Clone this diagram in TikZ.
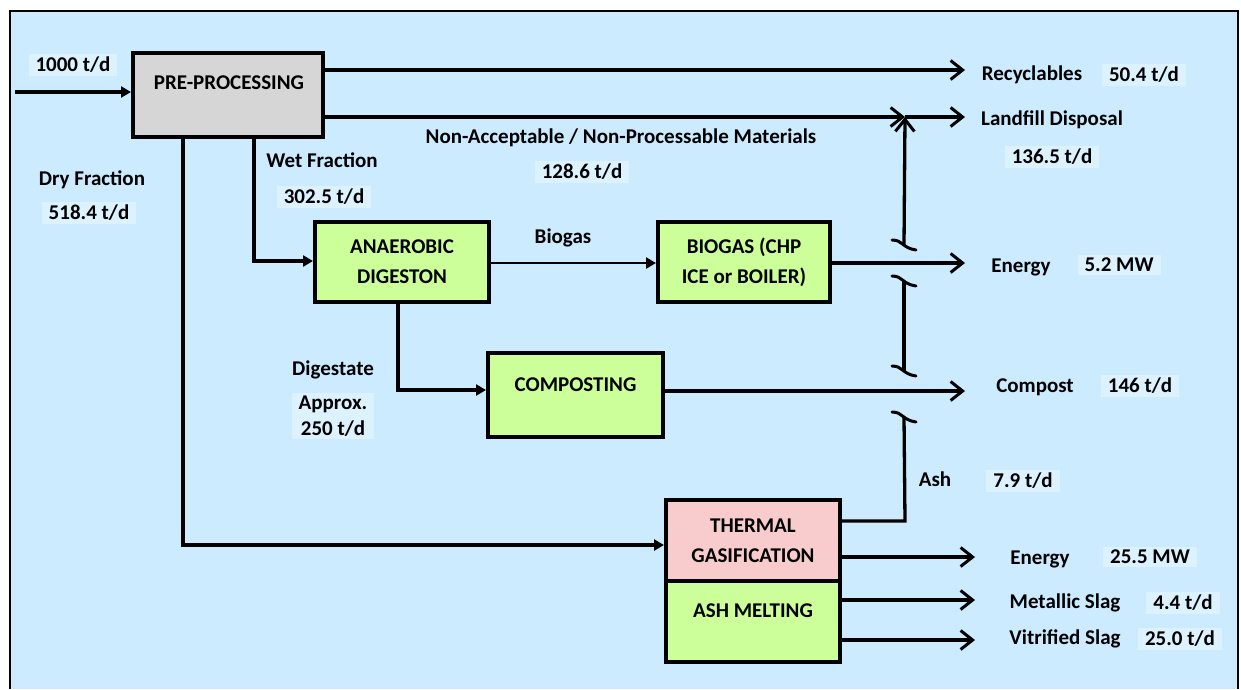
\documentclass[tikz,border=0pt]{standalone}
\usepackage{fontspec}
\setmainfont{Carlito}
\usetikzlibrary{arrows.meta}
\definecolor{skyfill}{HTML}{CCEBFF}
\definecolor{tagfill}{HTML}{DCF2FF}
\definecolor{greybox}{HTML}{D6D6D6}
\definecolor{greenbox}{HTML}{CCFF99}
\definecolor{pinkbox}{HTML}{F8CCCC}
\tikzset{
  proc/.style={draw=black, line width=4pt, inner sep=0pt, align=center,
    font=\bfseries\fontsize{21}{30}\selectfont},
  txt/.style={inner sep=2pt, font=\bfseries\fontsize{21}{24}\selectfont, align=center},
  tag/.style={txt, fill=tagfill, inner xsep=7pt, inner ysep=3pt},
  flow/.style={line width=3.3pt},
  feed/.style={flow, -{Triangle[length=10pt,width=11pt]}},
  outflow/.style={flow, -{Straight Barb[length=12pt,width=19pt,line width=3pt]}},
  hop/.style={line width=3pt, line cap=round}
}
\begin{document}
\begin{tikzpicture}[x=1pt,y=-1pt]
\path[use as bounding box] (0,0) rectangle (1241,689);
% frame
\fill[skyfill] (10,11) rectangle (1238,689);
\draw[line width=2.4pt] (10,689) -- (10,11) -- (1238,11) -- (1238,689);

% process boxes
\node[proc, fill=greybox, minimum width=190, minimum height=84] (pre) at (228,95) {};
\node[txt] (pretxt) at (229,83) {PRE-PROCESSING};
\node[proc, fill=greenbox, minimum width=174, minimum height=80] (ad) at (402,262) {ANAEROBIC\\DIGESTON};
\node[proc, fill=greenbox, minimum width=172, minimum height=80] (bio) at (744,262) {BIOGAS (CHP\\ICE or BOILER)};
\node[proc, fill=greenbox, minimum width=175, minimum height=84] (comp) at (575.5,395) {};
\node[txt] (comptxt) at (575.5,385) {COMPOSTING};
\node[proc, fill=pinkbox, minimum width=174, minimum height=81] (tg) at (753,540.5) {THERMAL\\GASIFICATION};
\node[proc, fill=greenbox, minimum width=174, minimum height=81] (am) at (753,621.5) {};
\node[txt] (amtxt) at (753,611) {ASH MELTING};

% flow end points
\coordinate (in) at (15,92);
\coordinate (recT) at (965,70);
\coordinate (junc) at (905,117);
\coordinate (landT) at (965,117);
\coordinate (en1T) at (965,263);
\coordinate (compT) at (965,391);
\coordinate (en2T) at (975,557);
\coordinate (metT) at (975,600);
\coordinate (vitT) at (975,640);
\coordinate (dryC) at (183,545);
\coordinate (wetC) at (254,261);
\coordinate (digC) at (398,390);
\coordinate (ashC) at (905,521);

% inflow and pre-processing outputs
\draw[feed] (in) -- (pre.west |- in);
\draw[outflow] (pre.east |- recT) -- (recT);
\draw[outflow] (pre.east |- junc) -- (junc);
\draw[outflow] (junc) -- (landT);
\draw[feed] (pre.south -| wetC) -- (wetC) -- (ad.west |- wetC);
\draw[feed] (pre.south -| dryC) -- (dryC) -- (tg.west |- dryC);

% anaerobic digestion branch
\draw[feed, line width=2.6pt] (ad.east |- en1T) -- (bio.west |- en1T);
\draw[feed] (ad.south -| digC) -- (digC) -- (comp.west |- digC);
\draw[outflow] (bio.east |- en1T) -- (en1T);
\draw[outflow] (comp.east |- compT) -- (compT);

% thermal branch
\draw[outflow] (tg.east |- en2T) -- (en2T);
\draw[outflow] (am.east |- metT) -- (metT);
\draw[outflow] (am.east |- vitT) -- (vitT);

% ash to landfill, jumping over the energy and compost lines
\coordinate (h1) at (904,245);
\coordinate (h2) at (904,281);
\coordinate (h3) at (904,371);
\coordinate (h4) at (904,417);
\draw[flow] (tg.east |- ashC) -- (ashC) -- (h4);
\draw[flow] (h3) -- (h2);
\draw[outflow] (h1) -- (junc);
\foreach \h in {h1,h2,h3,h4}
  \draw[hop] ([shift={(-12,-5)}]\h) .. controls ([shift={(-1,-5)}]\h) and ([shift={(-2,3)}]\h) .. ([shift={(12,5)}]\h);

% labels
\node[tag] (l1000) at (73,65) {1000 t/d};
\node[txt] (ldry) at (92,180) {Dry Fraction};
\node[tag] (ldryv) at (89,213) {518.4 t/d};
\node[txt] (lwet) at (322,160) {Wet Fraction};
\node[tag] (lwetv) at (324,197) {302.5 t/d};
\node[txt] (lnon) at (621,138) {Non-Acceptable / Non-Processable Materials};
\node[tag] (lnonv) at (582,172) {128.6 t/d};
\node[txt] (lbiogas) at (563,238) {Biogas};
\node[txt] (ldig) at (333,370) {Digestate};
\node[tag, font=\bfseries\fontsize{21}{26}\selectfont] (ldigv) at (333,416) {Approx.\\250 t/d};
\node[txt] (lrec) at (1032,75) {Recyclables};
\node[tag] (lrecv) at (1144,75) {50.4 t/d};
\node[txt] (lland) at (1052,120) {Landfill Disposal};
\node[tag] (llandv) at (1052,157) {136.5 t/d};
\node[txt] (len1) at (1021,267) {Energy};
\node[tag] (len1v) at (1119,265) {5.2 MW};
\node[txt] (lcomp) at (1035,387) {Compost};
\node[tag] (lcompv) at (1140,386) {146 t/d};
\node[txt] (lash) at (935,479) {Ash};
\node[tag] (lashv) at (1023,481) {7.9 t/d};
\node[txt] (len2) at (1040,559) {Energy};
\node[tag] (len2v) at (1150,557) {25.5 MW};
\node[txt] (lmet) at (1065,603) {Metallic Slag};
\node[tag] (lmetv) at (1183,603) {4.4 t/d};
\node[txt] (lvit) at (1065,639) {Vitrified Slag};
\node[tag] (lvitv) at (1180,639) {25.0 t/d};
\end{tikzpicture}
\end{document}
